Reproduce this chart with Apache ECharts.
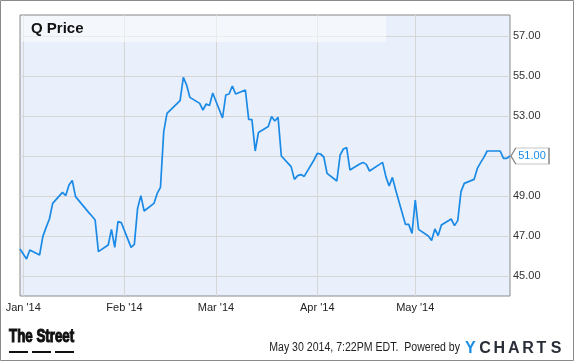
<!DOCTYPE html>
<html>
<head>
<meta charset="utf-8">
<script src="https://cdn.jsdelivr.net/npm/echarts@6/dist/echarts.min.js"></script>
<style>
html,body{margin:0;padding:0;background:#fff;}
#chart{width:575px;height:362px;}
</style>
</head>
<body>
<div id="chart"></div>
<script>
// ---- data ----
const dates = [
  '2013-12-31',
  '2014-01-02','2014-01-03','2014-01-06','2014-01-07','2014-01-08','2014-01-09','2014-01-10',
  '2014-01-13','2014-01-14','2014-01-15','2014-01-16','2014-01-17',
  '2014-01-21','2014-01-22','2014-01-23','2014-01-24',
  '2014-01-27','2014-01-28','2014-01-29','2014-01-30','2014-01-31',
  '2014-02-03','2014-02-04','2014-02-05','2014-02-06','2014-02-07',
  '2014-02-10','2014-02-11','2014-02-12','2014-02-13','2014-02-14',
  '2014-02-18','2014-02-19','2014-02-20','2014-02-21',
  '2014-02-24','2014-02-25','2014-02-26','2014-02-27','2014-02-28',
  '2014-03-03','2014-03-04','2014-03-05','2014-03-06','2014-03-07',
  '2014-03-10','2014-03-11','2014-03-12','2014-03-13','2014-03-14',
  '2014-03-17','2014-03-18','2014-03-19','2014-03-20','2014-03-21',
  '2014-03-24','2014-03-25','2014-03-26','2014-03-27','2014-03-28',
  '2014-03-31','2014-04-01','2014-04-02','2014-04-03','2014-04-04',
  '2014-04-07','2014-04-08','2014-04-09','2014-04-10','2014-04-11',
  '2014-04-14','2014-04-15','2014-04-16','2014-04-17',
  '2014-04-21','2014-04-22','2014-04-23','2014-04-24','2014-04-25',
  '2014-04-28','2014-04-29','2014-04-30','2014-05-01','2014-05-02',
  '2014-05-05','2014-05-06','2014-05-07','2014-05-08','2014-05-09',
  '2014-05-12','2014-05-13','2014-05-14','2014-05-15','2014-05-16',
  '2014-05-19','2014-05-20','2014-05-21','2014-05-22','2014-05-23',
  '2014-05-27','2014-05-28','2014-05-29','2014-05-30'
];
const prices = [
  46.35,
  45.85, 46.30, 46.05, 46.98, 47.43, 47.85, 48.63,
  49.18, 49.02, 49.55, 49.78, 48.97,
  48.18, 48.00, 47.80, 46.22,
  46.55, 47.33, 46.43, 47.72, 47.67,
  46.43, 46.58, 48.38, 49.02, 48.25,
  48.63, 49.13, 49.43, 52.22, 53.13,
  53.77, 54.93, 54.55, 53.93,
  53.63, 53.30, 53.60, 53.52, 54.15,
  52.90, 54.05, 54.10, 54.50, 54.10,
  54.30, 52.83, 52.82, 51.25, 52.18,
  52.47, 52.97, 52.75, 52.93, 51.00,
  50.47, 49.83, 50.02, 50.07, 49.98,
  50.80, 51.13, 51.10, 50.95, 50.13,
  49.75, 51.05, 51.35, 51.42, 50.30,
  50.60, 50.68, 50.58, 50.25,
  50.68, 49.97, 49.50, 49.93, 49.30,
  47.58, 47.58, 47.13, 48.80, 47.33,
  47.00, 46.77, 47.35, 47.02, 47.55,
  47.85, 47.52, 47.77, 49.22, 49.63,
  49.83, 50.38, 50.67, 50.93, 51.25,
  51.25, 50.88, 50.88, 51.00
];
const monthTicks = ['2014-01-01','2014-02-01','2014-03-01','2014-04-01','2014-05-01'];
const monthLabels = ["Jan '14","Feb '14","Mar '14","Apr '14","May '14"];
const yTicks = [45, 47, 49, 51, 53, 55, 57];
const titleText = 'Q Price';
const footerText = 'May 30 2014, 7:22PM EDT.  Powered by';
const lastLabel = '51.00';

// ---- chart ----
const toTs = (s) => { const p = s.split('-').map(Number); return Date.UTC(p[0], p[1] - 1, p[2]); };
const chart = echarts.init(document.getElementById('chart'), null, {renderer: 'canvas'});
const seriesData = dates.map((d, i) => [toTs(d), prices[i]]);
const monthTs = monthTicks.map(toTs);
const labelByTime = {};
monthTs.forEach((t, i) => { labelByTime[t] = monthLabels[i]; });

const ycLetters = ['Y','C','H','A','R','T','S'];
const ycGraphics = ycLetters.map((ch, i) => ({
  type: 'text', x: 465 + i * 14.3, y: 341,
  style: {text: ch, font: 'bold 16px "Liberation Sans", Arial, sans-serif',
    fill: i === 0 ? '#1B8FE6' : '#2A2E38'}, z: 10
}));

chart.setOption({
  animation: false,
  backgroundColor: '#ffffff',
  grid: {
    left: 20, top: 15, right: 65, bottom: 66,
    show: true, backgroundColor: '#E9F0FB', borderColor: '#8A8A8A', borderWidth: 1
  },
  xAxis: {
    type: 'value',
    min: toTs(dates[0]),
    max: toTs(dates[dates.length - 1]),
    axisLine: {show: false},
    axisTick: {show: false, customValues: monthTs},
    splitLine: {show: true, lineStyle: {color: '#D6D6D6', width: 1}},
    axisLabel: {
      customValues: monthTs,
      margin: 6,
      color: '#222',
      fontSize: 11,
      fontFamily: '"Liberation Sans", Arial, sans-serif',
      formatter: (v) => labelByTime[v] || ''
    }
  },
  yAxis: {
    type: 'value',
    position: 'right',
    min: 44,
    max: 58.05,
    axisLine: {show: false},
    axisTick: {show: false, customValues: yTicks},
    splitLine: {show: true, lineStyle: {color: '#D6D6D6', width: 1}},
    axisLabel: {
      customValues: yTicks,
      margin: 3,
      color: '#333',
      fontSize: 11,
      fontFamily: '"Liberation Sans", Arial, sans-serif',
      formatter: (v) => Number(v).toFixed(2)
    }
  },
  series: [{
    type: 'line',
    data: seriesData,
    showSymbol: false,
    clip: false,
    lineStyle: {color: '#1A8AE6', width: 1.7},
    itemStyle: {color: '#1A8AE6'},
    markPoint: {
      silent: true,
      data: [{
        coord: seriesData[seriesData.length - 1],
        symbol: 'path://M0,8 L5,0 L40,0 L40,16 L5,16 Z',
        symbolSize: [38, 16],
        symbolKeepAspect: false,
        symbolOffset: [20, 0],
        itemStyle: {color: '#ffffff', borderColor: '#8A8A8A', borderWidth: 1},
        label: {
          show: true, position: 'inside', offset: [2, 0],
          formatter: lastLabel, color: '#1A8AE6', fontSize: 11,
          fontFamily: '"Liberation Sans", Arial, sans-serif'
        }
      }]
    }
  }],
  graphic: [
    {type: 'rect', shape: {x: 0.5, y: 0.5, width: 573, height: 360},
      style: {fill: 'none', stroke: '#8A8A8A', lineWidth: 1}, z: 20, silent: true},
    {type: 'rect', shape: {x: 21, y: 16, width: 365, height: 26},
      style: {fill: 'rgba(255,255,255,0.5)'}, z: 5, silent: true},
    {type: 'text', x: 31, y: 21,
      style: {text: titleText, font: 'bold 15px "Liberation Sans", Arial, sans-serif', fill: '#111'}, z: 10},
    {type: 'text', x: 9, y: 328, scaleX: 0.74,
      style: {text: 'The Street', font: 'bold 18px "Liberation Sans", Arial, sans-serif',
        fill: '#111', stroke: '#111', lineWidth: 1.1}, z: 10},
    {type: 'rect', shape: {x: 9, y: 351, width: 19, height: 2}, style: {fill: '#111'}, z: 10},
    {type: 'rect', shape: {x: 32, y: 351, width: 19, height: 2}, style: {fill: '#111'}, z: 10},
    {type: 'rect', shape: {x: 55, y: 351, width: 19, height: 2}, style: {fill: '#111'}, z: 10},
    {type: 'text', x: 460, y: 348, scaleX: 0.88,
      style: {text: footerText, font: '12px "Liberation Sans", Arial, sans-serif', fill: '#222',
        align: 'right', verticalAlign: 'middle'}, z: 10}
  ].concat(ycGraphics)
});
</script>
</body>
</html>
